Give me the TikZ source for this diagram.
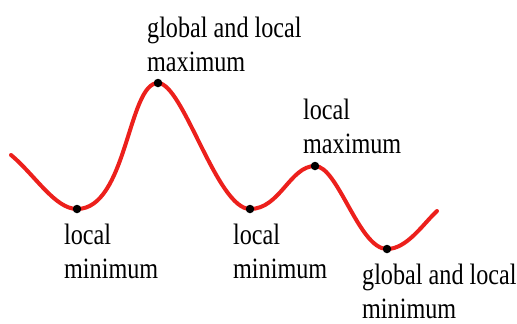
\documentclass[tikz,border=0pt]{standalone}
\usepackage{fontspec}
\setmainfont{Liberation Serif}
\definecolor{curvered}{RGB}{236,32,28}
\begin{document}
\begin{tikzpicture}[x=1pt,y=-1pt,
    curve/.style={line width=4pt, curvered, line cap=round},
    extremum/.style={circle, fill=black, inner sep=0pt, minimum size=8.5pt},
    caption/.style={anchor=base west, align=left, inner sep=0pt, xscale=0.82,
      font=\fontsize{29.5}{34}\selectfont}]
    \useasboundingbox (0,0) rectangle (517,324);
    % points on the curve
    \coordinate (start) at (11,155);
    \coordinate (lmin) at (77,209);
    \coordinate (gmax) at (158,83);
    \coordinate (lmin2) at (250,209);
    \coordinate (lmax) at (315,166);
    \coordinate (gmin) at (387,249);
    \coordinate (end) at (437,211);
    \draw[curve] (start) .. controls +(24,20) and +(-22,0) .. (lmin)
        .. controls +(50,0) and +(-30,0) .. (gmax)
        .. controls +(25,0) and +(-33,0) .. (lmin2)
        .. controls +(30,0) and +(-25,0) .. (lmax)
        .. controls +(23,0) and +(-28,0) .. (gmin)
        .. controls +(20,0) and +(-14,13) .. (end);
    \foreach \p in {lmin,gmax,lmin2,lmax,gmin}{
        \node[extremum] (dot-\p) at (\p) {};
    }
    % labels
    \node[caption] (txt-gmax) at (147,71) {global and local\\maximum};
    \node[caption] (txt-lmin) at (64,278) {local\\minimum};
    \node[caption] (txt-lmin2) at (233,278) {local\\minimum};
    \node[caption] (txt-lmax) at (303,153) {local\\maximum};
    \node[caption] (txt-gmin) at (362,318) {global and local\\minimum};
\end{tikzpicture}
\end{document}
